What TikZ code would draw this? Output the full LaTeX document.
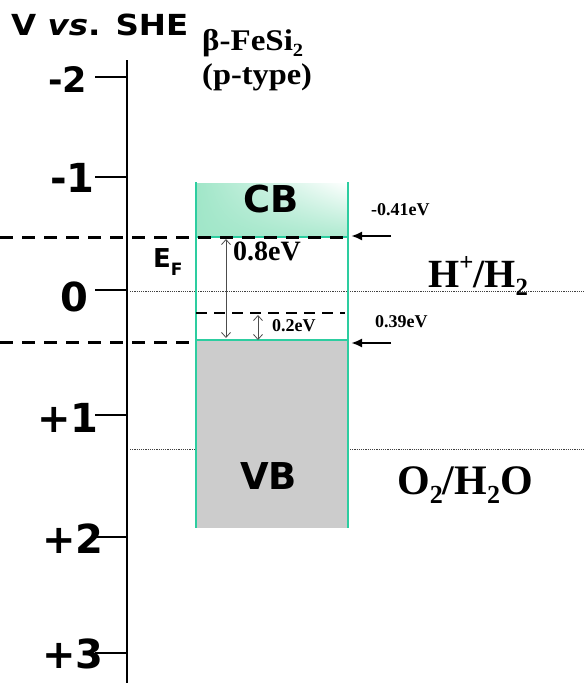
\documentclass[tikz,border=0pt]{standalone}
\usepackage{fontspec}
\setmainfont{Liberation Serif}
\newfontfamily\verd{DejaVu Sans}
\usetikzlibrary{arrows.meta,shadings}
\definecolor{bandgreen}{RGB}{45,205,160}
\definecolor{cbfill}{RGB}{160,230,200}
\definecolor{vbfill}{RGB}{204,204,204}
\newcommand\supx[1]{\raisebox{0.42em}{\scalebox{0.62}{#1}}}
\newcommand\subx[1]{\raisebox{-0.22em}{\scalebox{0.62}{#1}}}
\tikzset{
  axisline/.style={line width=2pt, black},
  tickline/.style={line width=1.4pt, black},
  ticklabel/.style={anchor=base west, inner sep=0pt, font=\verd\bfseries\fontsize{40}{40}\selectfont},
  bigdash/.style={line width=3pt, dash pattern=on 13pt off 9pt},
  middash/.style={line width=2pt, dash pattern=on 11pt off 7pt},
  dotline/.style={line width=1pt, black!75, dash pattern=on 1.2pt off 1pt},
  greenline/.style={line width=2pt, bandgreen},
  serlabel/.style={anchor=base west, inner sep=0pt, font=\bfseries},
  bandlabel/.style={anchor=base west, inner sep=0pt, font=\verd\bfseries\fontsize{37}{37}\selectfont},
  ptarrow/.style={line width=2.5pt, -{Latex[length=11pt,width=9pt]}},
  gaparrow/.style={line width=0.8pt, black!70, {Straight Barb[length=5pt,width=9pt]}-{Straight Barb[length=5pt,width=9pt]}}
}
\begin{document}
\begin{tikzpicture}[x=1pt,y=-1pt]
\useasboundingbox (0,0) rectangle (585,683);
% band fills
\shade[upper left=cbfill, lower left=cbfill, lower right=cbfill!85, upper right=white] (196,183) rectangle (348,237);
\fill[vbfill] (196,340) rectangle (348,528);
% dotted redox lines
\draw[dotline] (130,291) -- (585,291);
\draw[dotline] (130,449) -- (196,449);
\draw[dotline] (350,449) -- (585,449);
% axis
\coordinate (axtop) at (127,60);
\coordinate (axbot) at (127,683);
\draw[axisline] (axtop) -- (axbot);
\foreach \yy/\nm in {77/m2,177/m1,290/z0,415/p1,537/p2,653/p3}{
  \coordinate (t\nm) at (95,\yy);
  \coordinate (a\nm) at (127,\yy);
  \draw[tickline] (t\nm) -- (a\nm);
}
\node[ticklabel, font=\verd\bfseries\fontsize{35}{35}\selectfont] (lm2) at (48,92) {-2};
\node[ticklabel] (lm1) at (50,192) {-1};
\node[ticklabel] (lz0) at (60,311) {0};
\node[ticklabel] (lp1) at (37,432) {+1};
\node[ticklabel] (lp2) at (42,553) {+2};
\node[ticklabel] (lp3) at (42,668) {+3};
% title
\node[anchor=base west, inner sep=0pt, xscale=1.12, font=\verd\bfseries\fontsize{29}{29}\selectfont] (title) at (11,35) {V \textit{vs}. SHE};
\node[serlabel, xscale=1.1, font=\bfseries\fontsize{30}{30}\selectfont] (mat) at (202,50) {β-FeSi\subx{2}};
\node[serlabel, xscale=1.08, font=\bfseries\fontsize{30}{30}\selectfont] (ptype) at (202,84) {(p-type)};
% green band edges
\coordinate (bl) at (196,182);
\coordinate (blb) at (196,528);
\coordinate (br) at (348,182);
\coordinate (brb) at (348,528);
\draw[greenline] (bl) -- (blb);
\draw[greenline] (br) -- (brb);
\coordinate (cbl) at (196,237);
\coordinate (cbr) at (348,237);
\coordinate (vbl) at (196,340);
\coordinate (vbr) at (348,340);
\draw[greenline, line width=2.5pt] (cbl) -- (cbr);
\draw[greenline, line width=2.5pt] (vbl) -- (vbr);
% dashed levels
\coordinate (dl1) at (0,237);
\draw[bigdash] (dl1) -- (cbr);
\coordinate (dl2) at (0,342);
\coordinate (dl2e) at (196,342);
\draw[bigdash] (dl2) -- (dl2e);
\coordinate (efl) at (196,313);
\coordinate (efr) at (345,313);
\draw[middash] (efl) -- (efr);
% right arrows
\coordinate (ar1s) at (391,236);
\coordinate (ar1e) at (351,236);
\draw[ptarrow] (ar1s) -- (ar1e);
\coordinate (ar2s) at (391,343);
\coordinate (ar2e) at (351,343);
\draw[ptarrow] (ar2s) -- (ar2e);
% gap arrows
\coordinate (g1t) at (226,239);
\coordinate (g1b) at (226,338);
\draw[gaparrow] (g1t) -- (g1b);
\coordinate (g2t) at (258,315);
\coordinate (g2b) at (258,340);
\draw[gaparrow] (g2t) -- (g2b);
% labels
\node[serlabel, font=\bfseries\fontsize{28}{28}\selectfont] (l08) at (233,260) {0.8eV};
\node[serlabel, font=\bfseries\fontsize{18}{18}\selectfont] (l02) at (272,331) {0.2eV};
\node[serlabel, font=\bfseries\fontsize{18}{18}\selectfont] (l041) at (371,215) {-0.41eV};
\node[serlabel, font=\bfseries\fontsize{18}{18}\selectfont] (l039) at (375,327) {0.39eV};
\node[anchor=base west, inner sep=0pt, font=\verd\bfseries\fontsize{26}{26}\selectfont] (ef) at (153,267) {E\raisebox{-8pt}{\fontsize{17}{17}\selectfont F}};
\node[bandlabel] (cb) at (243,212) {CB};
\node[bandlabel] (vb) at (240,489) {VB};
\node[serlabel, font=\bfseries\fontsize{40}{40}\selectfont] (hh) at (428,287) {H\supx{+}/H\subx{2}};
\node[serlabel, font=\bfseries\fontsize{42}{42}\selectfont] (oh) at (397,494) {O\subx{2}/H\subx{2}O};
\end{tikzpicture}
\end{document}
